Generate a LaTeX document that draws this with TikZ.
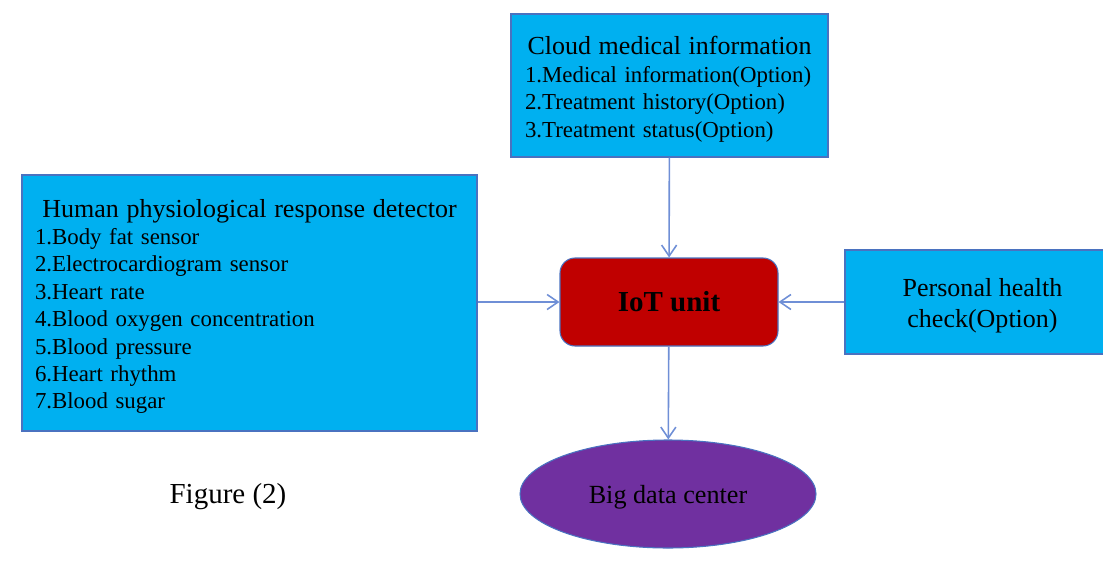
\documentclass[tikz,border=0pt]{standalone}
\usepackage{fontspec}
\setmainfont{Liberation Serif}
\usetikzlibrary{arrows.meta,shapes.geometric}
\definecolor{boxblue}{HTML}{00B0F0}
\definecolor{edgeblue}{HTML}{4A72C0}
\definecolor{linkblue}{HTML}{6F8FD6}
\definecolor{iotred}{HTML}{C00000}
\definecolor{bigpurple}{HTML}{7030A0}
\newcommand{\titlefont}{\fontsize{14.8}{16.5}\selectfont}
\newcommand{\itemfont}{\fontsize{13}{15.6}\selectfont}
\tikzset{
  infobox/.style={draw=edgeblue,fill=boxblue,line width=0.6pt,inner sep=0pt,
    minimum width=#1},
  listbox/.style={infobox=#1,align=left,font=\itemfont},
  link/.style={draw=linkblue,line width=0.9pt,-{Straight Barb[length=2.2mm,width=3mm]}}
}
\begin{document}
\begin{tikzpicture}
  \useasboundingbox (0,0) rectangle (22.06,-11.26);
  \node[listbox=6.34cm,minimum height=2.86cm,text width=5.78cm] (cloud) at (13.39,-1.71)
    {{\centering\titlefont\rule{0pt}{0.52cm}Cloud medical information\par}
     1.Medical information(Option)\par
     2.Treatment history(Option)\par
     3.Treatment status(Option)\par};
  \node[listbox=9.1cm,minimum height=5.12cm,text width=8.58cm] (detector) at (4.99,-6.06)
    {{\centering\titlefont\rule{0pt}{0.5cm}Human physiological response detector\par}
     1.Body fat sensor\par
     2.Electrocardiogram sensor\par
     3.Heart rate\par
     4.Blood oxygen concentration\par
     5.Blood pressure\par
     6.Heart rhythm\par
     7.Blood sugar\par};
  \node[draw=edgeblue,fill=iotred,line width=0.6pt,rounded corners=0.3cm,
        minimum width=4.36cm,minimum height=1.76cm,font=\fontsize{16.5}{20}\selectfont\bfseries] (iot) at (13.38,-6.04) {IoT unit};
  \node[infobox=5.5cm,minimum height=2.08cm,font=\fontsize{14.8}{17.6}\selectfont] (personal) at (19.65,-6.04)
    {\raisebox{-0.21cm}[0pt][0pt]{\begin{tabular}{@{}c@{}}Personal health\\check(Option)\end{tabular}}};
  \node[ellipse,draw=edgeblue,fill=bigpurple,line width=0.6pt,minimum width=5.92cm,minimum height=2.16cm,
        text height=0.45cm,text depth=0.09cm,font=\fontsize{14.9}{17}\selectfont] (bigdata) at (13.36,-9.88) {Big data center};
  \node[font=\fontsize{16.5}{19}\selectfont] (figlabel) at (4.56,-9.94) {Figure (2)};

  \draw[link] (cloud) -- (iot);
  \draw[link] (detector.east |- iot) -- (iot);
  \draw[link] (personal.west) -- (iot);
  \draw[link] (iot) -- (bigdata);
\end{tikzpicture}
\end{document}
